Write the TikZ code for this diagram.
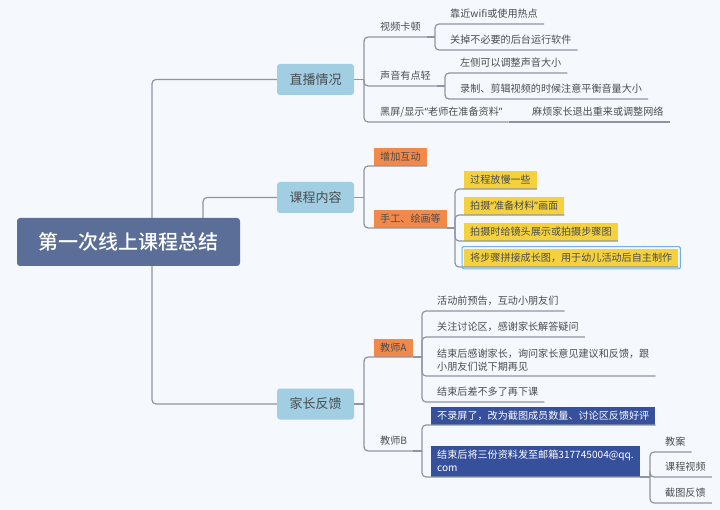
\documentclass[tikz,border=0pt]{standalone}
\usepackage{fontspec}
\setmainfont{Noto Sans CJK SC}
\newfontfamily\quotefont{Noto Sans}
\newfontfamily\rootfont{Noto Sans CJK SC Medium}
\usetikzlibrary{fit}
\newcommand{\openq}{{\quotefont “}}
\newcommand{\closeq}{{\quotefont ”}}
\definecolor{bgcol}{HTML}{F5F9FD}
\definecolor{rootcol}{HTML}{5B6E97}
\definecolor{branchcol}{HTML}{A1CEE2}
\definecolor{orangecol}{HTML}{F0894A}
\definecolor{yellowcol}{HTML}{F5D13D}
\definecolor{bluecol}{HTML}{36509B}
\definecolor{linecol}{HTML}{8E96A3}
\definecolor{textcol}{HTML}{484D50}
\definecolor{selcol}{HTML}{6FB1E8}
\tikzset{
  rootbox/.style={fill=rootcol,text=white,rounded corners=3,minimum width=223,minimum height=48,inner sep=0,font=\fontsize{20}{24}\rootfont},
  branchbox/.style={fill=branchcol,text=textcol,rounded corners=3,minimum width=77,minimum height=31,inner sep=0,font=\fontsize{13}{16}\selectfont},
  leaf/.style={anchor=south west,text=textcol,inner xsep=6,inner ysep=0,minimum height=20,align=left,font=\fontsize{10.1}{13}\selectfont},
  orangebox/.style={leaf,fill=orangecol,minimum height=18},
  yellowbox/.style={leaf,fill=yellowcol,minimum height=18},
  bluebox/.style={leaf,fill=bluecol,text=white,minimum height=18},
  selbox/.style={draw=selcol,line width=1,rounded corners=1.5,inner sep=2},
  link/.style={draw=linecol,line width=1.2,rounded corners=4}
}
\begin{document}
\begin{tikzpicture}[x=1pt,y=-1pt]
    \fill[bgcol] (0,0) rectangle (720,510);

    \node[rootbox] (root) at (128.5,242) {第一次线上课程总结};
    \node[branchbox] (zhibo) at (315.5,79.5) {直播情况};
    \node[branchbox] (kecheng) at (315.5,197.5) {课程内容};
    \node[branchbox] (jiazhang) at (315.5,404) {家长反馈};

    \node[leaf] (kadun) at (374,37) {视频卡顿};
    \node[leaf] (wifi) at (444,24) {靠近wifi或使用热点};
    \node[leaf] (guan) at (444,50) {关掉不必要的后台运行软件};
    \node[leaf] (shengyin) at (374,86) {声音有点轻};
    \node[leaf] (zuoce) at (454,73) {左侧可以调整声音大小};
    \node[leaf] (luzhi) at (454,99) {录制、剪辑视频的时候注意平衡音量大小};
    \node[leaf] (heiping) at (374,122) {黑屏/显示\openq 老师在准备资料\closeq};
    \node[leaf] (mafan) at (526,122) {麻烦家长退出重来或调整网络};

    \node[orangebox] (hudong) at (374,166) {增加互动};
    \node[orangebox] (shougong) at (374,228) {手工、绘画等};
    \node[yellowbox] (fangman) at (464,189) {过程放慢一些};
    \node[yellowbox] (cailiao) at (464,215) {拍摄\openq 准备材料\closeq 画面};
    \node[yellowbox] (jingtou) at (464,241) {拍摄时给镜头展示或拍摄步骤图};
    \node[yellowbox] (pinjie) at (464,267) {将步骤拼接成长图，用于幼儿活动后自主制作};
    \node[selbox,fit=(pinjie)] (pinjiesel) {};

    \node[orangebox] (jiaoshia) at (374,357) {教师A};
    \node[leaf] (yugao) at (431,311) {活动前预告，互动小朋友们};
    \node[leaf] (taolun) at (431,337) {关注讨论区，感谢家长解答疑问};
    \node[leaf,minimum height=31] (ganxie) at (431,376) {结束后感谢家长，询问家长意见建议和反馈，跟\\小朋友们说下期再见};
    \node[leaf] (chabuduo) at (431,402) {结束后差不多了再下课};

    \node[leaf] (jiaoshib) at (374,451) {教师B};
    \node[bluebox] (luping) at (431,425) {不录屏了，改为截图成员数量、讨论区反馈好评};
    \node[bluebox,minimum height=31] (youxiang) at (431,477) {结束后将三份资料发至邮箱317745004@qq.\\com};
    \node[leaf] (jiaoan) at (659,452) {教案};
    \node[leaf] (shipin) at (659,477) {课程视频};
    \node[leaf] (fankui) at (659,503) {截图反馈};

    \coordinate (ja) at (152,218);
    \coordinate (jb) at (203,218);
    \coordinate (jc) at (152,266);
    \coordinate (jzhibo) at (364,79.5);
    \coordinate (jkadun) at (435,37);
    \coordinate (jsheng) at (445,86);
    \coordinate (jkecheng) at (364,197.5);
    \coordinate (jshou) at (455,228);
    \coordinate (jjia) at (364,404);
    \coordinate (jjsa) at (422,357);
    \coordinate (jjsb) at (422,451);
    \coordinate (jyou) at (650,477);

    \draw[link] (ja) |- (zhibo.west);
    \draw[link] (jb) |- (kecheng.west);
    \draw[link] (jc) |- (jiazhang.west);

    \draw[link] (zhibo.east) -- (jzhibo);
    \foreach \n in {kadun,shengyin,heiping}
        \draw[link] (jzhibo) |- (\n.south east);
    \draw[link] (heiping.south east) -- (mafan.south east);
    \draw[link] (kadun.south east) -- (jkadun);
    \foreach \n in {wifi,guan}
        \draw[link] (jkadun) |- (\n.south east);
    \draw[link] (shengyin.south east) -- (jsheng);
    \foreach \n in {zuoce,luzhi}
        \draw[link] (jsheng) |- (\n.south east);

    \draw[link] (kecheng.east) -- (jkecheng);
    \foreach \n in {hudong,shougong}
        \draw[link] (jkecheng) |- (\n.south east);
    \draw[link] (shougong.south east) -- (jshou);
    \foreach \n in {fangman,cailiao,jingtou,pinjie}
        \draw[link] (jshou) |- (\n.south east);

    \draw[link] (jiazhang.east) -- (jjia);
    \foreach \n in {jiaoshia,jiaoshib}
        \draw[link] (jjia) |- (\n.south east);
    \draw[link] (jiaoshia.south east) -- (jjsa);
    \foreach \n in {yugao,taolun,ganxie,chabuduo}
        \draw[link] (jjsa) |- (\n.south east);
    \draw[link] (jiaoshib.south east) -- (jjsb);
    \foreach \n in {luping,youxiang}
        \draw[link] (jjsb) |- (\n.south east);
    \draw[link] (youxiang.south east) -- (jyou);
    \foreach \n in {jiaoan,shipin,fankui}
        \draw[link] (jyou) |- (\n.south east);
\end{tikzpicture}
\end{document}
